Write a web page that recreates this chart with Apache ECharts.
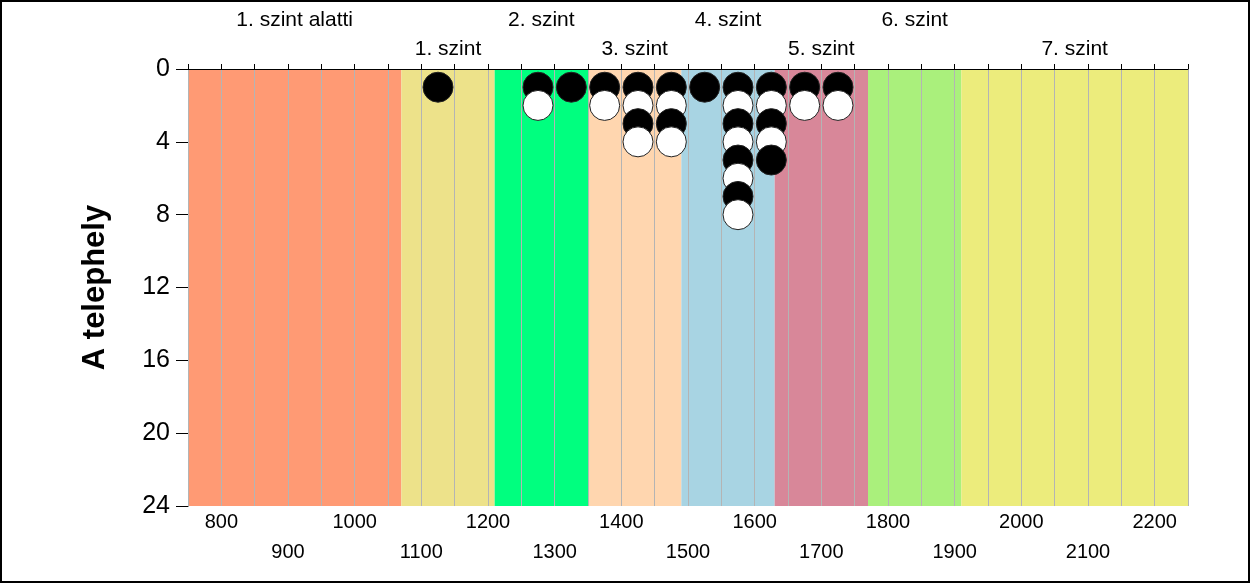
<!DOCTYPE html>
<html><head><meta charset="utf-8">
<script src="https://cdn.jsdelivr.net/npm/echarts@6/dist/echarts.min.js"></script>
<style>
html,body{margin:0;padding:0;background:#fff;}
#c{position:absolute;left:0;top:0;width:1250px;height:583px;}
#f{position:absolute;left:0;top:0;width:1250px;height:583px;box-sizing:border-box;border:2px solid #000;pointer-events:none;}
</style></head>
<body><div id="c"></div><div id="f"></div>
<script>
// Band levels (x ranges) and names
const bandNames = ['1. szint alatti','1. szint','2. szint','3. szint','4. szint','5. szint','6. szint','7. szint'];
const bandStarts = [750, 1070, 1210, 1350, 1490, 1630, 1770, 1910];
const bandEnds   = [1070, 1210, 1350, 1490, 1630, 1770, 1910, 2250];
const bandColors = ['#FF9A74','#EDE28A','#00FF7F','#FFD6AF','#A8D4E3','#D88799','#AAF07C','#ECEC7C'];

// Dots: black (odd positions) and white (even positions)
const blackPoints = [[1125,1],[1275,1],[1325,1],[1375,1],[1425,1],[1475,1],[1525,1],[1575,1],[1625,1],[1675,1],[1725,1],
  [1425,3],[1475,3],[1575,3],[1625,3],[1575,5],[1625,5],[1575,7]];
const whitePoints = [[1275,2],[1375,2],[1425,2],[1475,2],[1575,2],[1625,2],[1675,2],[1725,2],
  [1425,4],[1475,4],[1575,4],[1625,4],[1575,6],[1575,8]];

const yTicks = [0,4,8,12,16,20,24];

const allPoints = blackPoints.map(p=>({value:p, black:true})).concat(whitePoints.map(p=>({value:p, black:false})))
  .sort((a,b)=>a.value[1]-b.value[1]);

const bandData = bandNames.map((n,i)=>[bandStarts[i], bandEnds[i], i]);

const FONT = 'Arial, "Liberation Sans", sans-serif';
const chart = echarts.init(document.getElementById('c'));
chart.setOption({
  animation:false,
  grid:{left:188, right:62, top:69, bottom:77},
  xAxis:[{
    type:'value', position:'bottom', min:750, max:2250, interval:25,
    axisLine:{show:true, lineStyle:{color:'#000'}},
    axisTick:{show:true, length:4, lineStyle:{color:'#000'}},
    splitLine:{show:false},
    axisLabel:{interval:0, color:'#000', fontSize:20, fontFamily:FONT, margin:1, lineHeight:30,
      formatter:v=> v%200===0 ? String(v) : (v%100===0 ? '\n'+v : '')}
  },{
    type:'value', position:'top', min:750, max:2250, interval:50, z:1.5,
    axisLine:{show:true, lineStyle:{color:'#000'}},
    axisTick:{show:true, length:5, lineStyle:{color:'#000'}},
    axisLabel:{show:false},
    splitLine:{show:true, lineStyle:{color:'#B4B4B4', width:1}}
  }],
  yAxis:{
    type:'value', inverse:true, min:0, max:24, interval:4,
    name:'A telephely', nameLocation:'middle', nameGap:77,
    nameTextStyle:{fontSize:31, fontWeight:'bold', color:'#000', fontFamily:FONT},
    axisLine:{show:true, lineStyle:{color:'#000'}},
    axisTick:{show:true, length:12, lineStyle:{color:'#000'}},
    splitLine:{show:false},
    axisLabel:{color:'#000', fontSize:25, fontFamily:FONT, margin:18,
      formatter:v=> yTicks.includes(v) ? String(v) : ''}
  },
  series:[{
    type:'custom', z:1, xAxisIndex:0, data:bandData, silent:true,
    renderItem:(params, api)=>{
      const i = api.value(2);
      const p0 = api.coord([api.value(0), 0]);
      const p1 = api.coord([api.value(1), 24]);
      return {type:'group', children:[
        {type:'rect', shape:{x:p0[0], y:p0[1], width:p1[0]-p0[0], height:p1[1]-p0[1]}, style:{fill:bandColors[i]}},
        {type:'text', x:(p0[0]+p1[0])/2, y:p0[1]-(i%2===0 ? 49 : 20),
          style:{text:bandNames[i], textAlign:'center', textVerticalAlign:'middle', fill:'#000', font:'21px '+FONT}}
      ]};
    }
  },{
    type:'scatter', z:3, xAxisIndex:0, symbol:'circle', symbolSize:30,
    itemStyle:{opacity:1},
    data:allPoints.map(p=>({value:p.value, itemStyle:{color:p.black?'#000':'#fff', borderColor:'#222', borderWidth:1, opacity:1}}))
  }]
});
</script></body></html>
